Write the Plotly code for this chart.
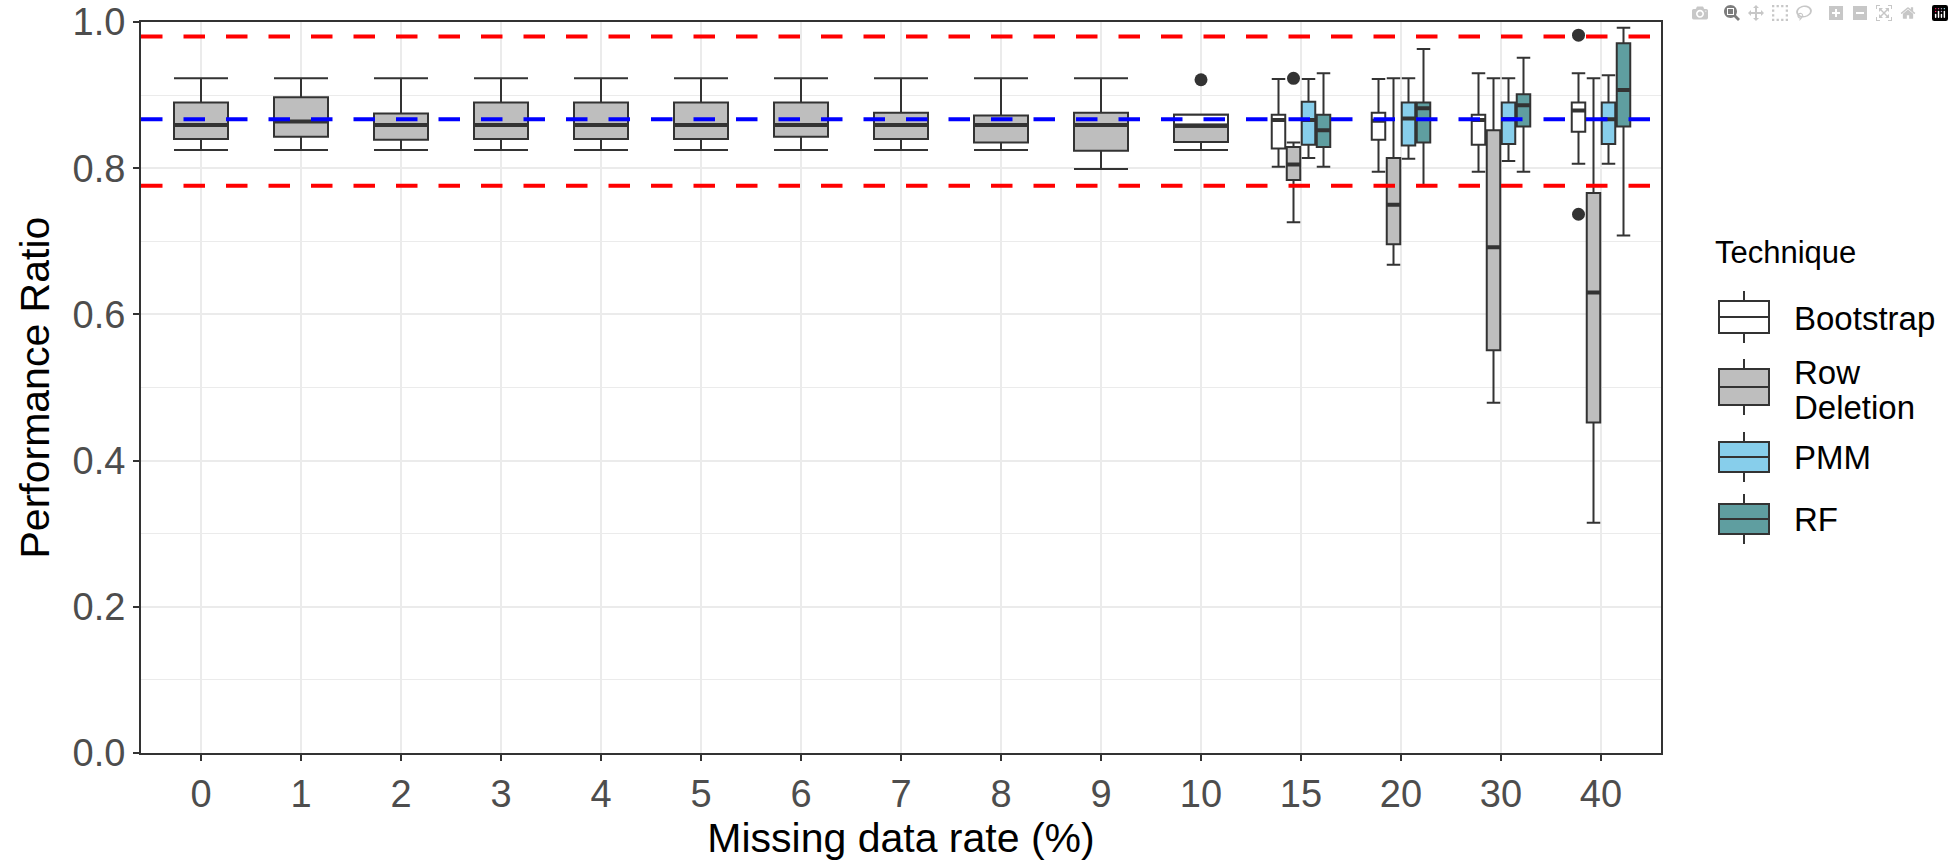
import plotly.graph_objects as go

# ---------------- data ----------------
rates = ["0", "1", "2", "3", "4", "5", "6", "7", "8", "9", "10", "15", "20", "30", "40"]
single_rates = rates[:11]          # only Row Deletion shown (full-width box)
dodge_rates = ["15", "20", "30", "40"]
techniques = ["Bootstrap", "Row Deletion", "PMM", "RF"]

# Row Deletion, 0-10 %
rd1_lo = [0.825, 0.825, 0.825, 0.825, 0.825, 0.825, 0.825, 0.825, 0.825, 0.799, 0.825]
rd1_q1 = [0.840, 0.843, 0.839, 0.840, 0.840, 0.840, 0.843, 0.840, 0.835, 0.824, 0.836]
rd1_med = [0.859, 0.864, 0.859, 0.859, 0.859, 0.859, 0.859, 0.859, 0.859, 0.859, 0.858]
rd1_q3 = [0.890, 0.897, 0.875, 0.890, 0.890, 0.890, 0.890, 0.876, 0.872, 0.876, 0.873]
rd1_hi = [0.923, 0.923, 0.923, 0.923, 0.923, 0.923, 0.923, 0.923, 0.923, 0.923, 0.873]

# Bootstrap overlapping at 10 %
b10_rate = ["10"]
b10_lo = [0.858]
b10_q1 = [0.858]
b10_med = [0.858]
b10_q3 = [0.873]
b10_hi = [0.873]

# 15, 20, 30, 40 %
boot_lo = [0.802, 0.795, 0.795, 0.806]
boot_q1 = [0.827, 0.839, 0.832, 0.850]
boot_med = [0.866, 0.865, 0.866, 0.879]
boot_q3 = [0.873, 0.876, 0.873, 0.890]
boot_hi = [0.922, 0.922, 0.930, 0.930]

rd_lo = [0.726, 0.668, 0.479, 0.315]
rd_q1 = [0.784, 0.696, 0.551, 0.452]
rd_med = [0.805, 0.750, 0.692, 0.630]
rd_q3 = [0.829, 0.814, 0.852, 0.766]
rd_hi = [0.835, 0.923, 0.923, 0.923]

pmm_lo = [0.814, 0.813, 0.810, 0.806]
pmm_q1 = [0.832, 0.831, 0.833, 0.833]
pmm_med = [0.866, 0.868, 0.867, 0.867]
pmm_q3 = [0.891, 0.890, 0.890, 0.890]
pmm_hi = [0.922, 0.923, 0.923, 0.927]

rf_lo = [0.802, 0.777, 0.795, 0.708]
rf_q1 = [0.829, 0.835, 0.857, 0.857]
rf_med = [0.852, 0.882, 0.886, 0.907]
rf_q3 = [0.873, 0.890, 0.901, 0.971]
rf_hi = [0.930, 0.963, 0.951, 0.992]

# outliers
out_rate = ["10", "15", "40", "40"]
out_tech = ["Row Deletion", "Row Deletion", "Bootstrap", "Bootstrap"]
out_val = [0.921, 0.923, 0.982, 0.737]

# reference lines
ref_upper = 0.980
ref_mean = 0.867
ref_lower = 0.776

y_ticks = [0.0, 0.2, 0.4, 0.6, 0.8, 1.0]

# ---------------- styling ----------------
fills = {"Bootstrap": "#FFFFFF", "Row Deletion": "#BEBEBE", "PMM": "#87CEEB", "RF": "#5F9EA0"}
legend_lines = {"Bootstrap": ["Bootstrap"], "Row Deletion": ["Row", "Deletion"],
                "PMM": ["PMM"], "RF": ["RF"]}
OUTLINE = "#333333"
GRID = "#EBEBEB"
FONT = "Liberation Sans, Arial, sans-serif"
W_SINGLE = 0.54
SLOT = 0.15
W_DODGE = 0.135
pos = {r: i for i, r in enumerate(rates)}
slot_off = {t: (k - 1.5) * SLOT for k, t in enumerate(techniques)}

# plot area in pixels
W, H = 1954, 864
PL, PR, PT, PB = 141, 1661, 22, 753


def px_x(px):
    return (px - PL) / (PR - PL)


def px_y(py):
    return (PB - py) / (PB - PT)


fig = go.Figure()
median_layers = []


def add_box(tech, xs, lo, q1, med, q3, hi, width):
    fig.add_trace(go.Box(
        x=xs, lowerfence=lo, q1=q1, median=med, q3=q3, upperfence=hi,
        name=tech, showlegend=False,
        fillcolor=fills[tech], line=dict(color=OUTLINE, width=2),
        width=width, whiskerwidth=1, boxpoints=False,
    ))
    median_layers.append((tech, xs, med, width))


add_box("Row Deletion", [pos[r] for r in single_rates], rd1_lo, rd1_q1, rd1_med, rd1_q3, rd1_hi,
        W_SINGLE)
add_box("Bootstrap", [pos[r] for r in b10_rate], b10_lo, b10_q1, b10_med, b10_q3, b10_hi,
        W_SINGLE)

dodged = {
    "Bootstrap": (boot_lo, boot_q1, boot_med, boot_q3, boot_hi),
    "Row Deletion": (rd_lo, rd_q1, rd_med, rd_q3, rd_hi),
    "PMM": (pmm_lo, pmm_q1, pmm_med, pmm_q3, pmm_hi),
    "RF": (rf_lo, rf_q1, rf_med, rf_q3, rf_hi),
}
for tech in techniques:
    lo, q1, med, q3, hi = dodged[tech]
    xs = [pos[r] + slot_off[tech] for r in dodge_rates]
    add_box(tech, xs, lo, q1, med, q3, hi, W_DODGE)

# thick median bars
for tech, xs, med, width in median_layers:
    fig.add_trace(go.Box(
        x=xs, lowerfence=med, q1=med, median=med, q3=med, upperfence=med,
        showlegend=False, fillcolor="rgba(0,0,0,0)",
        line=dict(color=OUTLINE, width=4), width=width, whiskerwidth=0,
        boxpoints=False, hoverinfo="skip",
    ))

# outliers
out_x = [pos[r] + (slot_off[t] if r in dodge_rates else 0) for r, t in zip(out_rate, out_tech)]
fig.add_trace(go.Scatter(
    x=out_x, y=out_val, mode="markers", showlegend=False,
    marker=dict(color=OUTLINE, size=13), hoverinfo="y",
))

# dashed reference lines
for val, col in [(ref_upper, "#FF0000"), (ref_lower, "#FF0000"), (ref_mean, "#0000FF")]:
    fig.add_shape(type="line", xref="paper", yref="y", x0=0, x1=1, y0=val, y1=val,
                  line=dict(color=col, width=4, dash="21.5px,21px"), layer="above")

# ---------------- custom ggplot-style legend ----------------
annotations = []
LEG_LEFT = 1713
KEY_CX, KEY_HW, STUB = 1744, 25, 10
TEXT_LEFT = 1792
key_cy = [317, 387, 457, 519]
key_hh = [16, 18, 15, 15]
text_cy = [[318], [372, 407], [457], [519]]

annotations.append(dict(
    text="Technique", x=px_x(LEG_LEFT), y=px_y(252), xref="paper", yref="paper",
    xanchor="left", yanchor="middle", showarrow=False,
    font=dict(family=FONT, size=31, color="black"),
))
for k, tech in enumerate(techniques):
    cy, hh = key_cy[k], key_hh[k]
    x0, x1 = px_x(KEY_CX - KEY_HW), px_x(KEY_CX + KEY_HW)
    fig.add_shape(type="line", xref="paper", yref="paper", x0=px_x(KEY_CX), x1=px_x(KEY_CX),
                  y0=px_y(cy - hh - STUB), y1=px_y(cy + hh + STUB),
                  line=dict(color=OUTLINE, width=2))
    fig.add_shape(type="rect", xref="paper", yref="paper", x0=x0, x1=x1,
                  y0=px_y(cy - hh), y1=px_y(cy + hh),
                  fillcolor=fills[tech], line=dict(color=OUTLINE, width=2))
    fig.add_shape(type="line", xref="paper", yref="paper", x0=x0, x1=x1,
                  y0=px_y(cy), y1=px_y(cy), line=dict(color=OUTLINE, width=2))
    for line_text, ty in zip(legend_lines[tech], text_cy[k]):
        annotations.append(dict(
            text=line_text, x=px_x(TEXT_LEFT), y=px_y(ty), xref="paper", yref="paper",
            xanchor="left", yanchor="middle", showarrow=False,
            font=dict(family=FONT, size=33, color="black"),
        ))

# y-axis title placed like ggplot's (centred on the panel)
annotations.append(dict(
    text="Performance Ratio", textangle=-90, x=px_x(34), y=0.5, xref="paper", yref="paper",
    xanchor="center", yanchor="middle", showarrow=False,
    font=dict(family=FONT, size=41, color="black"),
))

axis_common = dict(
    showline=True, mirror=True, linecolor=OUTLINE, linewidth=2,
    ticks="outside", ticklen=6, tickwidth=2, tickcolor=OUTLINE,
    tickfont=dict(family=FONT, size=38, color="#4D4D4D"),
    showgrid=True, gridcolor=GRID, gridwidth=2, zeroline=False,
)

fig.update_layout(
    width=W, height=H,
    margin=dict(l=PL, r=W - PR, t=PT, b=H - PB, autoexpand=False),
    paper_bgcolor="white", plot_bgcolor="white",
    boxmode="overlay", showlegend=False,
    font=dict(family=FONT, color="black"),
    annotations=annotations,
    xaxis=dict(
        axis_common, range=[-0.6, 14.6], tickmode="array",
        tickvals=list(range(len(rates))), ticktext=rates, automargin=False,
        title=dict(text="Missing data rate (%)", font=dict(family=FONT, size=41, color="black"),
                   standoff=9),
    ),
    yaxis=dict(
        axis_common, range=[0, 1], tickmode="array", tickvals=y_ticks,
        ticktext=[f"{v:.1f}" for v in y_ticks], automargin=False,
        minor=dict(tickmode="linear", tick0=0.1, dtick=0.2, showgrid=True, gridcolor=GRID,
                   gridwidth=1, ticks=""),
    ),
)

fig.write_html("out.html", post_script="document.body.style.margin='0px';")
